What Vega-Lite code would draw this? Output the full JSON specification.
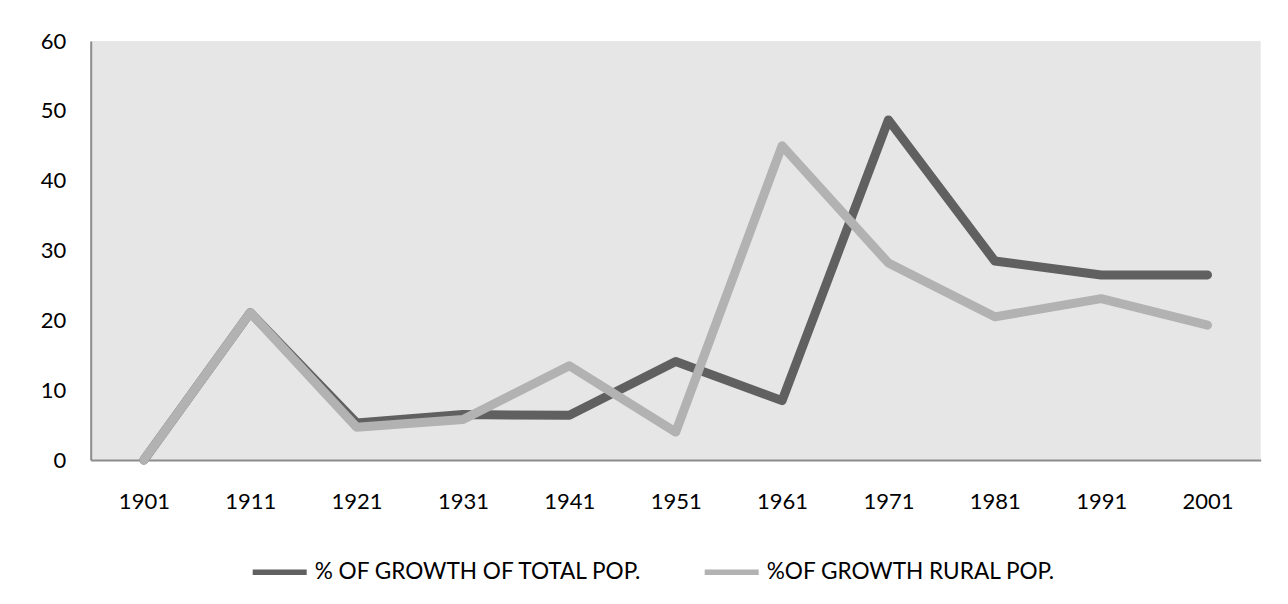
{
  "$schema": "https://vega.github.io/schema/vega-lite/v6.json",
  "autosize": {"type": "none"},
  "width": 1170,
  "height": 419,
  "padding": {"left": 90.7, "top": 41, "right": 27.3, "bottom": 144},
  "background": "#ffffff",
  "data": {
    "values": [
      {"year": "1901", "series": "% OF GROWTH OF TOTAL POP.", "value": 0},
      {"year": "1911", "series": "% OF GROWTH OF TOTAL POP.", "value": 21.1},
      {"year": "1921", "series": "% OF GROWTH OF TOTAL POP.", "value": 5.3},
      {"year": "1931", "series": "% OF GROWTH OF TOTAL POP.", "value": 6.5},
      {"year": "1941", "series": "% OF GROWTH OF TOTAL POP.", "value": 6.4},
      {"year": "1951", "series": "% OF GROWTH OF TOTAL POP.", "value": 14.1},
      {"year": "1961", "series": "% OF GROWTH OF TOTAL POP.", "value": 8.5},
      {"year": "1971", "series": "% OF GROWTH OF TOTAL POP.", "value": 48.7},
      {"year": "1981", "series": "% OF GROWTH OF TOTAL POP.", "value": 28.5},
      {"year": "1991", "series": "% OF GROWTH OF TOTAL POP.", "value": 26.5},
      {"year": "2001", "series": "% OF GROWTH OF TOTAL POP.", "value": 26.5},
      {"year": "1901", "series": "%OF GROWTH RURAL POP.", "value": 0},
      {"year": "1911", "series": "%OF GROWTH RURAL POP.", "value": 21.1},
      {"year": "1921", "series": "%OF GROWTH RURAL POP.", "value": 4.7},
      {"year": "1931", "series": "%OF GROWTH RURAL POP.", "value": 5.8},
      {"year": "1941", "series": "%OF GROWTH RURAL POP.", "value": 13.5},
      {"year": "1951", "series": "%OF GROWTH RURAL POP.", "value": 4.0},
      {"year": "1961", "series": "%OF GROWTH RURAL POP.", "value": 45.0},
      {"year": "1971", "series": "%OF GROWTH RURAL POP.", "value": 28.2},
      {"year": "1981", "series": "%OF GROWTH RURAL POP.", "value": 20.5},
      {"year": "1991", "series": "%OF GROWTH RURAL POP.", "value": 23.1},
      {"year": "2001", "series": "%OF GROWTH RURAL POP.", "value": 19.3}
    ]
  },
  "mark": {"type": "line", "strokeWidth": 9, "strokeCap": "round", "strokeJoin": "round", "clip": false},
  "encoding": {
    "x": {
      "field": "year",
      "type": "ordinal",
      "scale": {"type": "point", "padding": 0.5},
      "axis": {
        "title": null,
        "labelAngle": 0,
        "ticks": false,
        "grid": false,
        "domainColor": "#8c8c8c",
        "domainWidth": 2,
        "labelPadding": 31,
        "labelFont": "Lato",
        "labelFontSize": 22,
        "labelColor": "#000000"
      }
    },
    "y": {
      "field": "value",
      "type": "quantitative",
      "scale": {"domain": [0, 60], "nice": false, "zero": true},
      "axis": {
        "title": null,
        "values": [0, 10, 20, 30, 40, 50, 60],
        "ticks": false,
        "grid": false,
        "domainColor": "#8c8c8c",
        "domainWidth": 2,
        "labelPadding": 25,
        "labelFont": "Lato",
        "labelFontSize": 22,
        "labelColor": "#000000"
      }
    },
    "color": {
      "field": "series",
      "type": "nominal",
      "scale": {
        "domain": ["% OF GROWTH OF TOTAL POP.", "%OF GROWTH RURAL POP."],
        "range": ["#606060", "#b2b2b2"]
      },
      "legend": {
        "title": null,
        "orient": "none",
        "direction": "horizontal",
        "legendX": 159,
        "legendY": 501,
        "symbolType": "stroke",
        "symbolSize": 2916,
        "symbolStrokeWidth": 5.5,
        "labelOffset": 5,
        "columnPadding": 50,
        "labelFont": "Lato",
        "labelFontSize": 22.6,
        "labelColor": "#000000",
        "labelLimit": 0
      }
    }
  },
  "config": {
    "view": {"fill": "#e6e6e6", "stroke": null}
  }
}
